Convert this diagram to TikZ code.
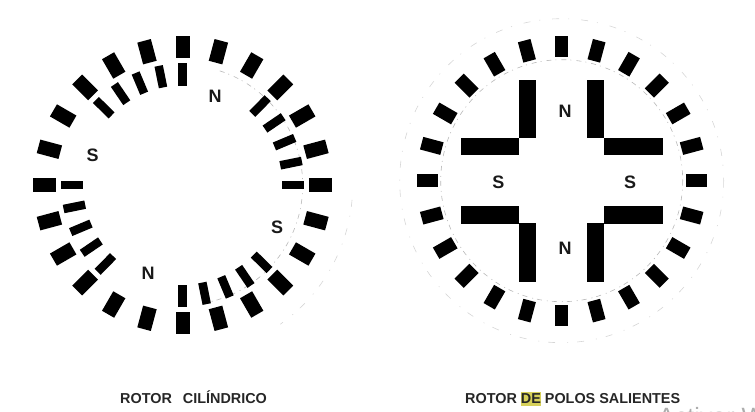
\documentclass[tikz,border=0pt]{standalone}
\usepackage{fontspec}
\setmainfont{Liberation Sans}
\definecolor{hl}{RGB}{214,208,90}
\tikzset{
  slotouter/.style={fill=black,draw=none,minimum width=22.5pt,minimum height=14pt,inner sep=0pt,rectangle},
  slotinner/.style={fill=black,draw=none,minimum width=22pt,minimum height=8.5pt,inner sep=0pt,rectangle},
  slotright/.style={fill=black,draw=none,minimum width=21pt,minimum height=13pt,inner sep=0pt,rectangle},
  pole/.style={font=\bfseries\fontsize{18}{18}\selectfont,inner sep=0pt,text=black!90},
  caption/.style={font=\bfseries\fontsize{14.4}{16}\selectfont,inner sep=0pt,anchor=base west,text=black!85},
  faint/.style={draw=black!28,line width=0.6pt,dash pattern=on 5pt off 4pt on 1pt off 5pt},
  fainter/.style={draw=black!16,line width=0.6pt,dash pattern=on 7pt off 9pt on 1pt off 12pt},
  shoe/.style={fill=black,draw=none},
}
\begin{document}
\begin{tikzpicture}[x=1pt,y=-1pt]
\useasboundingbox (0,0) rectangle (755,412);
\def\lx{182.7}\def\ly{185}
\def\rx{561.7}\def\ry{180.7}
% faint arcs, left rotor
\draw[faint] ({\lx+120*cos(72)},{\ly-120*sin(72)}) arc[start angle=-72,end angle=78,radius=120];
\draw[fainter] ({\lx+170*cos(5)},{\ly+170*sin(5)}) arc[start angle=5,end angle=55,radius=170];
% faint circles, right rotor
\draw[faint] (\rx,\ry) circle[radius=121];
\draw[fainter] (\rx,\ry) circle[radius=162];
% left rotor, outer slots
\foreach \k in {0,...,23}{
  \pgfmathsetmacro{\a}{15*\k}
  \node[slotouter,rotate=\a] (lo\k) at ({\lx+138*cos(\a)},{\ly-138*sin(\a)}) {};
}
% left rotor, inner slots: four groups of five
\foreach \g in {0,90,180,270}{
  \foreach \k in {0,...,4}{
    \pgfmathsetmacro{\a}{\g+11.4*\k}
    \node[slotinner,rotate=\a] (li\g-\k) at ({\lx+110.5*cos(\a)},{\ly-110.5*sin(\a)}) {};
  }
}
\node[pole] (ln1) at (215,96) {N};
\node[pole] (ls1) at (92.7,155) {S};
\node[pole] (ln2) at (148,273) {N};
\node[pole] (ls2) at (277,227) {S};
% right rotor, outer slots
\foreach \k in {0,...,23}{
  \pgfmathsetmacro{\a}{15*\k}
  \node[slotright,rotate=\a] (ro\k) at ({\rx+134.5*cos(\a)},{\ry-134.5*sin(\a)}) {};
}
% right rotor, L-shaped pole edges
\foreach \sx in {-1,1}{
  \foreach \sy in {-1,1}{
    \fill[shoe] ({\rx+\sx*25.5},{\ry+\sy*42.5}) rectangle ({\rx+\sx*42.5},{\ry+\sy*101});
    \fill[shoe] ({\rx+\sx*42.3},{\ry+\sy*25.5}) rectangle ({\rx+\sx*101},{\ry+\sy*43});
  }
}
\node[pole] (rn1) at (565,111.7) {N};
\node[pole] (rs1) at (498.3,182.3) {S};
\node[pole] (rs2) at (630,182.3) {S};
\node[pole] (rn2) at (565,248.3) {N};
% captions
\node[caption] (cap1) at (120,403) {ROTOR\hspace{11pt}CILÍNDRICO};
\fill[hl] (520.5,392) rectangle (541,405.5);
\node[caption] (cap2) at (465,403) {ROTOR DE POLOS SALIENTES};
% clipped watermark
\begin{scope}
\clip (655,395) rectangle (755,412);
\node[inner sep=0pt,anchor=base west,text=black!32,font=\fontsize{25}{25}\selectfont] (wm) at (658,425) {Activar W};
\end{scope}
\end{tikzpicture}
\end{document}
